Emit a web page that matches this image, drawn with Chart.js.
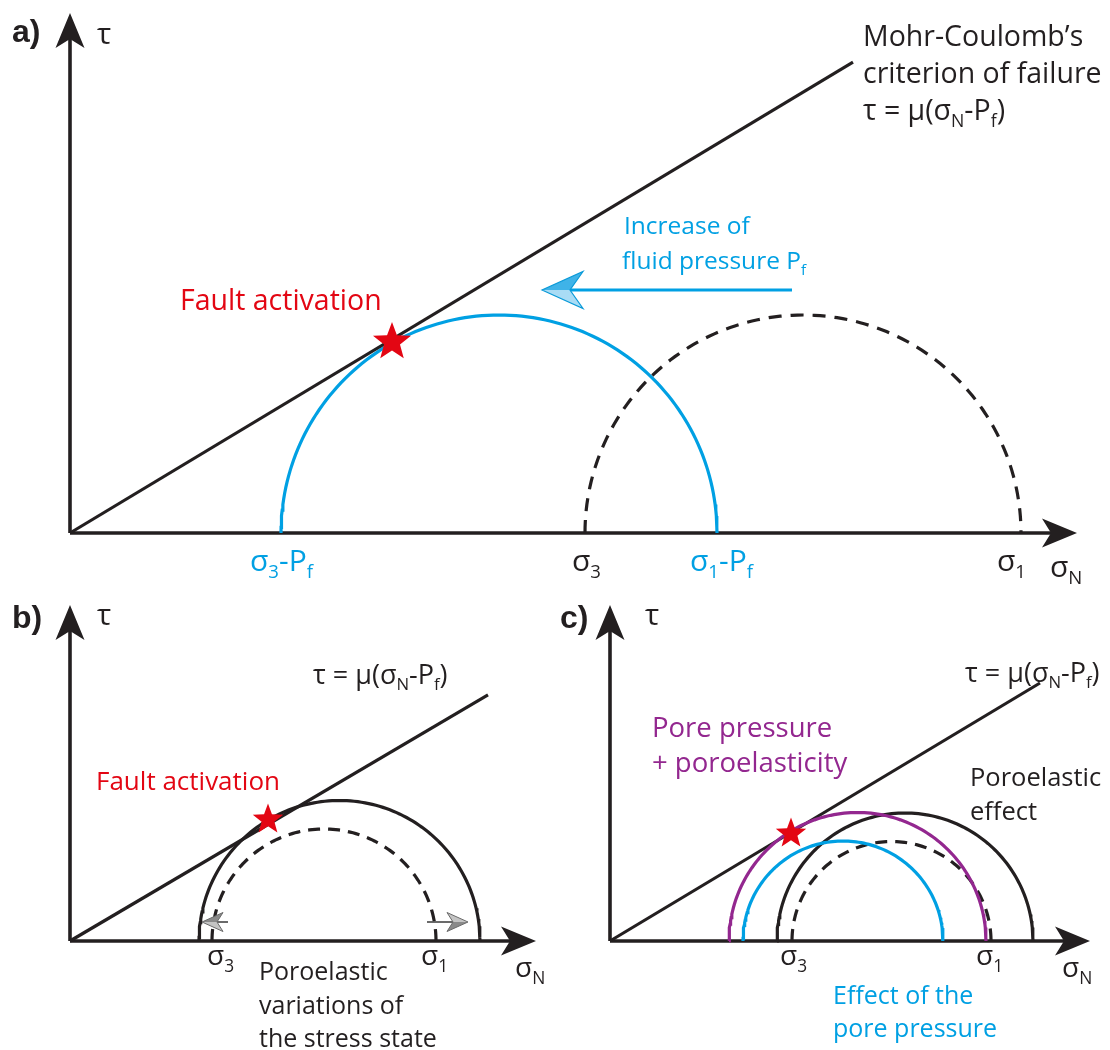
<!DOCTYPE html>
<html><head><meta charset="utf-8">
<script src="https://cdn.jsdelivr.net/npm/chart.js@4.4.0/dist/chart.umd.min.js"></script>
<style>
body{margin:0;background:#fff;}
#wrap{position:relative;width:1110px;height:1050px;overflow:hidden;font-family:"Open Sans",sans-serif;color:#231f20;}
.pane{position:absolute;}
.lbl{position:absolute;white-space:nowrap;line-height:1;}
.lbl sub{font-size:0.62em;vertical-align:-0.38em;line-height:0;}
.pl{font-family:"Liberation Sans",Arial,sans-serif;font-weight:bold;font-size:32px;}
.blue{color:#00a0e3}.red{color:#e30613}.purple{color:#93278f}
</style></head>
<body><div id="wrap">
<div class="pane" style="left:0;top:0;width:1110px;height:600px"><canvas id="ca"></canvas></div>
<div class="pane" style="left:0;top:580px;width:560px;height:470px"><canvas id="cb"></canvas></div>
<div class="pane" style="left:560px;top:580px;width:550px;height:470px"><canvas id="cc"></canvas></div>

<div class="lbl pl" style="left:12px;top:15px">a)</div>
<div class="lbl" style="left:97px;top:18px;font-size:30px">τ</div>
<div class="lbl" style="left:863px;top:21px;font-size:28.5px">Mohr-Coulomb’s</div>
<div class="lbl" style="left:863px;top:58px;font-size:28.5px">criterion of failure</div>
<div class="lbl" style="left:863px;top:95px;font-size:28.5px">τ = μ(σ<sub>N</sub>-P<sub>f</sub>)</div>
<div class="lbl blue" style="left:624px;top:213px;font-size:24.5px">Increase of</div>
<div class="lbl blue" style="left:622px;top:248px;font-size:24.5px">fluid pressure P<sub>f</sub></div>
<div class="lbl red" style="left:180px;top:285px;font-size:28.5px">Fault activation</div>
<div class="lbl blue" style="left:250px;top:545px;font-size:30px">σ<sub>3</sub>-P<sub>f</sub></div>
<div class="lbl" style="left:572px;top:545px;font-size:30px">σ<sub>3</sub></div>
<div class="lbl blue" style="left:690px;top:545px;font-size:30px">σ<sub>1</sub>-P<sub>f</sub></div>
<div class="lbl" style="left:997px;top:545px;font-size:30px">σ<sub>1</sub></div>
<div class="lbl" style="left:1050px;top:551px;font-size:30px">σ<sub>N</sub></div>

<div class="lbl pl" style="left:12px;top:601px">b)</div>
<div class="lbl" style="left:97px;top:599px;font-size:30px">τ</div>
<div class="lbl" style="left:313px;top:660px;font-size:27px">τ = μ(σ<sub>N</sub>-P<sub>f</sub>)</div>
<div class="lbl red" style="left:96px;top:767px;font-size:26px">Fault activation</div>
<div class="lbl" style="left:207px;top:940px;font-size:28px">σ<sub>3</sub></div>
<div class="lbl" style="left:421px;top:940px;font-size:28px">σ<sub>1</sub></div>
<div class="lbl" style="left:515px;top:952px;font-size:28px">σ<sub>N</sub></div>
<div class="lbl" style="left:259px;top:958px;font-size:25px">Poroelastic</div>
<div class="lbl" style="left:259px;top:992px;font-size:25px">variations of</div>
<div class="lbl" style="left:259px;top:1025px;font-size:25px">the stress state</div>

<div class="lbl pl" style="left:560px;top:601px">c)</div>
<div class="lbl" style="left:645px;top:599px;font-size:30px">τ</div>
<div class="lbl" style="left:965px;top:658px;font-size:27px">τ = μ(σ<sub>N</sub>-P<sub>f</sub>)</div>
<div class="lbl purple" style="left:652px;top:713px;font-size:27.5px">Pore pressure</div>
<div class="lbl purple" style="left:652px;top:748px;font-size:27.5px">+ poroelasticity</div>
<div class="lbl" style="left:970px;top:764px;font-size:25.5px">Poroelastic</div>
<div class="lbl" style="left:970px;top:798px;font-size:25.5px">effect</div>
<div class="lbl" style="left:780px;top:940px;font-size:28px">σ<sub>3</sub></div>
<div class="lbl" style="left:976px;top:940px;font-size:28px">σ<sub>1</sub></div>
<div class="lbl" style="left:1062px;top:952px;font-size:28px">σ<sub>N</sub></div>
<div class="lbl blue" style="left:833px;top:982px;font-size:25px">Effect of the</div>
<div class="lbl blue" style="left:833px;top:1015px;font-size:25px">pore pressure</div>
</div>
<script>
// ---------- DATA (stress units) ----------
// Panel a
const A_mu = 0.6015;
const A_failEnd = 78.3;          // sigma_N where the drawn failure line stops
const A_sigma = [51.5, 95.1];    // [sigma3, sigma1] initial state (dashed)
const A_Pf = 30.4;               // fluid pressure increase
const A_star = [32.2, 19.3];     // fault activation point
const A_pfArrow = [72.2, 47.2];  // arrow from -> to (sigma_N)
const A_pfArrowTau = 24.3;
const A_axes = [100.7, 52.0];    // axis extents [sigma_N, tau]

// Panel b
const B_mu = 0.589;
const B_failEnd = 41.8;
const B_before = [14.2, 36.6];   // dashed
const B_after = [12.9, 41.0];    // solid (poroelastic variation)
const B_star = [19.8, 12.3];
const B_shiftL = [15.8, 13.2];   // sigma3 shift arrow from -> to
const B_shiftR = [35.7, 39.8];   // sigma1 shift arrow from -> to
const B_shiftTau = 1.9;
const B_axes = [46.6, 33.6];

// Panel c
const C_mu = 0.6;
const C_failEnd = 43.0;
const C_initial = [18.2, 38.1];  // dashed
const C_poroel = [16.7, 42.3];   // black solid
const C_pore = [13.3, 33.3];     // blue
const C_both = [11.9, 37.6];     // purple
const C_star = [18.1, 10.9];
const C_axes = [48.0, 33.6];

// ---------- helpers ----------
const INK = '#231f20', BLUE = '#00a0e3', RED = '#e30613', PURPLE = '#93278f';
const U = 10; // px per stress unit (equal in both directions)
function semicircle(s3, s1, n) {
  n = n || 120;
  const c = (s3 + s1) / 2, r = (s1 - s3) / 2, pts = [];
  for (let i = 0; i <= n; i++) { const t = Math.PI * i / n; pts.push({x: c - r * Math.cos(t), y: r * Math.sin(t)}); }
  return pts;
}
function starImg(size, color) {
  const c = document.createElement('canvas'); c.width = c.height = size;
  const g = c.getContext('2d'); const R = size / 2, r = R * 0.42;
  g.beginPath();
  for (let i = 0; i < 10; i++) {
    const a = -Math.PI / 2 + i * Math.PI / 5, rr = i % 2 ? r : R;
    g.lineTo(R + rr * Math.cos(a), R * 1.1 + rr * Math.sin(a));
  }
  g.closePath(); g.fillStyle = color; g.fill();
  return c;
}
const arrowPlugin = {
  id: 'arrowheads',
  afterDatasetsDraw(chart, args, opts) {
    const ctx = chart.ctx, xs = chart.scales.x, ys = chart.scales.y;
    (opts.list || []).forEach(a => {
      const px = xs.getPixelForValue(a.x), py = ys.getPixelForValue(a.y);
      ctx.save(); ctx.translate(px, py); ctx.rotate(a.angle * Math.PI / 180);
      const L = a.len, W = a.w / 2, N = a.notch;
      if (a.fill2) {
        ctx.beginPath(); ctx.moveTo(0, 0); ctx.lineTo(-L, -W); ctx.lineTo(-L + N, 0); ctx.closePath();
        ctx.fillStyle = a.fill; ctx.fill();
        ctx.beginPath(); ctx.moveTo(0, 0); ctx.lineTo(-L + N, 0); ctx.lineTo(-L, W); ctx.closePath();
        ctx.fillStyle = a.fill2; ctx.fill();
      }
      ctx.beginPath(); ctx.moveTo(0, 0); ctx.lineTo(-L, -W); ctx.lineTo(-L + N, 0); ctx.lineTo(-L, W); ctx.closePath();
      if (!a.fill2) { ctx.fillStyle = a.fill; ctx.fill(); }
      if (a.stroke) { ctx.strokeStyle = a.stroke; ctx.lineWidth = a.lw || 1; ctx.lineJoin = 'miter'; ctx.stroke(); }
      ctx.restore();
    });
  }
};
function line(data, color, width, dash, order) {
  return {type: 'scatter', data, showLine: true, borderColor: color, borderWidth: width, borderDash: dash || [],
          pointRadius: 0, pointHoverRadius: 0, tension: 0, fill: false, order: order || 5, borderCapStyle: 'butt'};
}
function axesData(ax) {
  const back = 20 / U; // stop the line inside the arrowhead
  return [line([{x: 0, y: 0}, {x: ax[0] - back, y: 0}], INK, 3.6, null, 8),
          line([{x: 0, y: 0}, {x: 0, y: ax[1] - back}], INK, 3.6, null, 8)];
}
function axisArrows(ax) {
  return [{x: ax[0], y: 0, angle: 0, len: 35, w: 29, notch: 9, fill: INK},
          {x: 0, y: ax[1], angle: -90, len: 35, w: 29, notch: 9, fill: INK}];
}
function makeChart(id, w, h, ox, oy, datasets, arrows) {
  return new Chart(document.getElementById(id), {
    type: 'scatter',
    data: {datasets},
    options: {
      responsive: true, maintainAspectRatio: false, animation: false,
      layout: {padding: 0, autoPadding: false},
      events: [],
      scales: {
        x: {type: 'linear', display: false, min: -ox / U, max: (w - ox) / U},
        y: {type: 'linear', display: false, min: -(h - oy) / U, max: oy / U}
      },
      plugins: {legend: {display: false}, tooltip: {enabled: false}, arrowheads: {list: arrows}}
    },
    plugins: [arrowPlugin]
  });
}
const LW = 3.2;

// ---------- Panel a ----------
const A_eff = [A_sigma[0] - A_Pf, A_sigma[1] - A_Pf];
makeChart('ca', 1110, 600, 70, 533, [
  {type: 'scatter', data: [{x: A_star[0], y: A_star[1]}], pointStyle: starImg(40, RED), pointRadius: 20, order: 0},
  ...axesData(A_axes),
  line([{x: 0, y: 0}, {x: A_failEnd, y: A_mu * A_failEnd}], INK, LW, null, 4),
  line(semicircle(A_sigma[0], A_sigma[1]), INK, LW, [13, 9], 6),
  line(semicircle(A_eff[0], A_eff[1]), BLUE, LW, null, 5),
  line([{x: A_pfArrow[0], y: A_pfArrowTau}, {x: A_pfArrow[1] + 2.5, y: A_pfArrowTau}], BLUE, LW, null, 3)
], [...axisArrows(A_axes),
    {x: A_pfArrow[1], y: A_pfArrowTau, angle: 180, len: 41, w: 37, notch: 13, fill: '#a9dcf5', fill2: '#3fb3e8', stroke: '#0a9ad8', lw: 1.2}]);

// ---------- Panel b ----------
makeChart('cb', 560, 470, 70, 361, [
  {type: 'scatter', data: [{x: B_star[0], y: B_star[1]}], pointStyle: starImg(32, RED), pointRadius: 16, order: 0},
  ...axesData(B_axes),
  line([{x: 0, y: 0}, {x: B_failEnd, y: B_mu * B_failEnd}], INK, LW, null, 4),
  line(semicircle(B_before[0], B_before[1]), INK, LW, [12, 8], 6),
  line(semicircle(B_after[0], B_after[1]), INK, LW, null, 5),
  line([{x: B_shiftL[0], y: B_shiftTau}, {x: B_shiftL[1] + 1.5, y: B_shiftTau}], '#444', 1.6, null, 2),
  line([{x: B_shiftR[0], y: B_shiftTau}, {x: B_shiftR[1] - 1.5, y: B_shiftTau}], '#444', 1.6, null, 2)
], [...axisArrows(B_axes),
    {x: B_shiftL[1], y: B_shiftTau, angle: 180, len: 21, w: 19, notch: 6, fill: '#c4c4c4', fill2: '#8a8a8a', stroke: '#6a6a6a', lw: 1},
    {x: B_shiftR[1], y: B_shiftTau, angle: 0, len: 21, w: 19, notch: 6, fill: '#c4c4c4', fill2: '#8a8a8a', stroke: '#6a6a6a', lw: 1}]);

// ---------- Panel c ----------
makeChart('cc', 550, 470, 50, 361, [
  {type: 'scatter', data: [{x: C_star[0], y: C_star[1]}], pointStyle: starImg(32, RED), pointRadius: 16, order: 0},
  ...axesData(C_axes),
  line([{x: 0, y: 0}, {x: C_failEnd, y: C_mu * C_failEnd}], INK, LW, null, 4),
  line(semicircle(C_initial[0], C_initial[1]), INK, LW, [12, 8], 7),
  line(semicircle(C_poroel[0], C_poroel[1]), INK, LW, null, 6),
  line(semicircle(C_pore[0], C_pore[1]), BLUE, LW, null, 5),
  line(semicircle(C_both[0], C_both[1]), PURPLE, LW, null, 3)
], axisArrows(C_axes));
</script>
</body></html>
